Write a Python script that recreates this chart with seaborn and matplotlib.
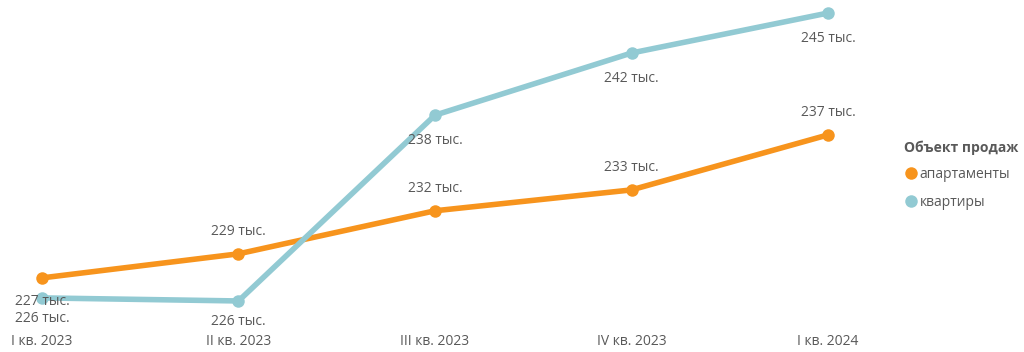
import pandas as pd
import matplotlib.pyplot as plt
import seaborn as sns

sns.set_style("white")
plt.rcParams["font.family"] = ["Open Sans", "DejaVu Sans"]

quarters = ["I кв. 2023", "II кв. 2023", "III кв. 2023", "IV кв. 2023", "I кв. 2024"]
apartments = [226.95, 228.6, 231.55, 232.98, 236.75]
flats = [225.58, 225.37, 238.1, 242.36, 245.1]
labels_apart = ["227 тыс.", "229 тыс.", "232 тыс.", "233 тыс.", "237 тыс."]
labels_flats = ["226 тыс.", "226 тыс.", "238 тыс.", "242 тыс.", "245 тыс."]

series = ["апартаменты", "квартиры"]
colors = {"апартаменты": "#F7941D", "квартиры": "#92CAD3"}

df = pd.DataFrame({
    "quarter": quarters * 2,
    "x": list(range(len(quarters))) * 2,
    "value": apartments + flats,
    "object": [series[0]] * len(quarters) + [series[1]] * len(quarters),
})

fig = plt.figure(figsize=(10.24, 3.52), dpi=100)
ax = fig.add_axes([0.041, 0.145, 0.7676, 0.818])

sns.lineplot(data=df, x="x", y="value", hue="object", hue_order=series,
             palette=colors, linewidth=4, marker="o", markersize=9,
             markeredgewidth=0, ax=ax, legend=False, clip_on=False)

ax.set_xlim(0, len(quarters) - 1)
ax.set_ylim(min(flats + apartments), max(flats + apartments))
sns.despine(ax=ax, left=True, bottom=True)
ax.set_yticks([])
ax.set_xticks(range(len(quarters)))
ax.set_xticklabels(quarters, fontsize=10, color="#595959")
ax.tick_params(axis="x", length=0, pad=24)
ax.set_xlabel("")
ax.set_ylabel("")

txt = "#595959"
for i, (v, lab) in enumerate(zip(apartments, labels_apart)):
    dy = -17 if i == 0 else 16
    ax.annotate(lab, (i, v), xytext=(0, dy), textcoords="offset points",
                ha="center", va="center", fontsize=10, color=txt)
for i, (v, lab) in enumerate(zip(flats, labels_flats)):
    dy = -15 if i < 2 else -18
    ax.annotate(lab, (i, v), xytext=(0, dy), textcoords="offset points",
                ha="center", va="center", fontsize=10, color=txt)

handles = [plt.Line2D([], [], marker="o", linestyle="", markersize=9,
                      markerfacecolor=colors[s], markeredgewidth=0) for s in series]
leg = fig.legend(handles, series, title="Объект продаж", loc="upper left",
                 bbox_to_anchor=(0.871, 0.637), frameon=False, fontsize=10,
                 handletextpad=0.1, handlelength=1.0, labelspacing=0.9,
                 alignment="left")
leg.get_title().set_fontweight("bold")
leg.get_title().set_fontsize(10)
leg.get_title().set_color("#595959")
for t in leg.get_texts():
    t.set_color("#595959")

fig.savefig("out.png", dpi=100)
